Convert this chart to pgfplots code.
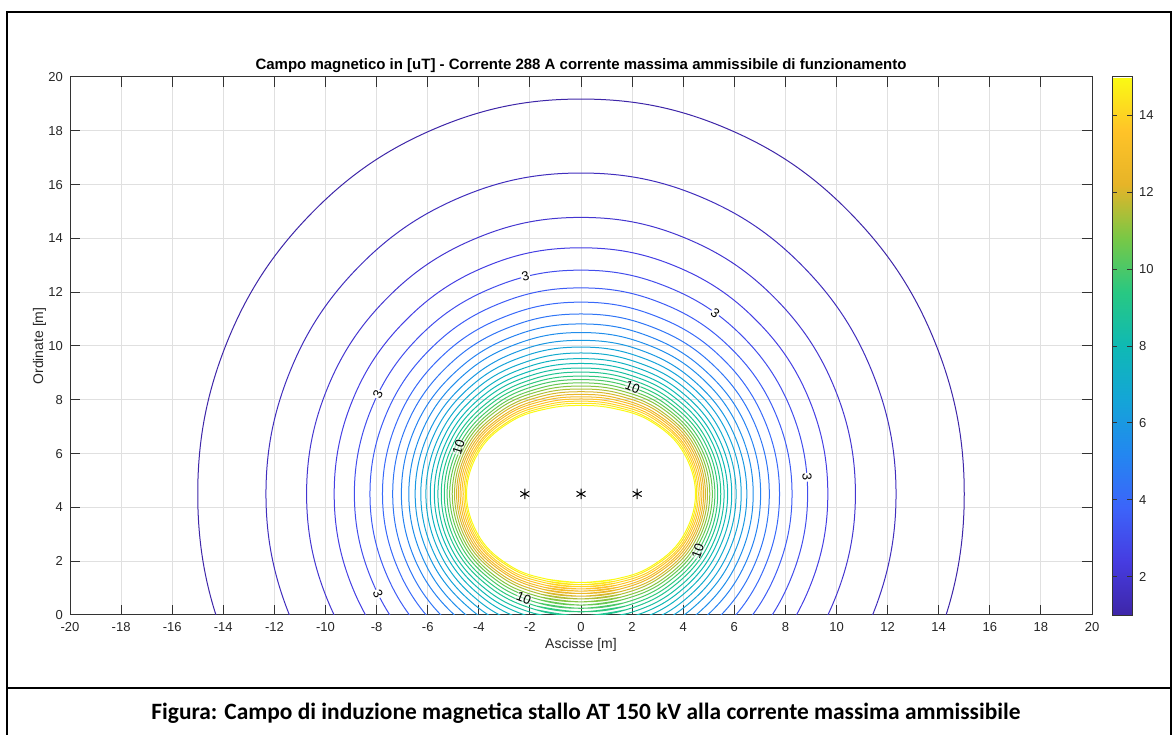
\documentclass[border=0pt]{standalone}
\usepackage{fontspec}
\setmainfont{Liberation Sans}
\newfontfamily\calibri{Carlito}
\usepackage{pgfplots}
\pgfplotsset{compat=1.18}
\definecolor{cm0}{RGB}{62,38,168}
\definecolor{cm1}{RGB}{70,60,225}
\definecolor{cm2}{RGB}{60,100,250}
\definecolor{cm3}{RGB}{35,135,240}
\definecolor{cm4}{RGB}{20,165,215}
\definecolor{cm5}{RGB}{15,185,180}
\definecolor{cm6}{RGB}{40,200,130}
\definecolor{cm7}{RGB}{120,200,70}
\definecolor{cm8}{RGB}{230,180,40}
\definecolor{cm9}{RGB}{255,195,40}
\definecolor{cm10}{RGB}{250,250,20}
\pgfplotsset{colormap={mparula}{rgb255=(62,38,168) rgb255=(70,60,225) rgb255=(60,100,250) rgb255=(35,135,240) rgb255=(20,165,215) rgb255=(15,185,180) rgb255=(40,200,130) rgb255=(120,200,70) rgb255=(230,180,40) rgb255=(255,195,40) rgb255=(250,250,20)}}
\begin{document}
\begin{tikzpicture}
\path[use as bounding box] (0pt,0pt) rectangle (586.5pt,367pt);
\draw[line width=1.2pt] (3.5pt,-3pt) -- (3.5pt,361pt) -- (585.5pt,361pt) -- (585.5pt,-3pt);
\draw[line width=1.2pt] (3.5pt,23pt) -- (585.5pt,23pt);
\node[anchor=base, font=\calibri\bfseries\fontsize{11.7}{13}\selectfont] at (293pt,7.5pt) {Figura: Campo di induzione magnetica stallo AT 150 kV alla corrente massima ammissibile};
\begin{axis}[
  at={(35pt,59.5pt)}, anchor=south west,
  scale only axis, width=511pt, height=269pt,
  xmin=-20, xmax=20, ymin=0, ymax=20,
  xtick={-20,-18,...,20}, ytick={0,2,...,20},
  grid=major, grid style={line width=0.5pt, color=black!12},
  axis line style={line width=0.5pt, color=black!80},
  every tick/.style={line width=0.5pt, color=black!80},
  major tick length=5pt,
  tick label style={font=\fontsize{6.5}{7}\selectfont, text=black!85},
  /pgf/number format/assume math mode=true,
  title={Campo magnetico in [uT] - Corrente 288 A corrente massima ammissibile di funzionamento},
  title style={at={(axis description cs:0.5,0.9907)}, anchor=base, font=\bfseries\fontsize{7.5}{8.5}\selectfont},
  xlabel={Ascisse [m]},
  xlabel style={at={(axis description cs:0.5,-0.0632)}, anchor=base, font=\fontsize{7}{8}\selectfont, text=black!85},
  ylabel={Ordinate [m]},
  ylabel style={at={(axis description cs:-0.0264,0.5)}, anchor=base, font=\fontsize{7}{8}\selectfont, text=black!85},
  colormap name=mparula, point meta min=1, point meta max=15,
  colorbar,
  colorbar style={
    at={(parent axis.north east)}, anchor=north west, xshift=1.5pt,
    scale only axis, width=10pt, height=269pt,
    ytick={2,4,...,14},
    yticklabel style={font=\fontsize{6.5}{7}\selectfont, text=black!85},
    /pgf/number format/assume math mode=true,
    axis line style={line width=0.5pt, color=black!80},
    every tick/.style={line width=0.5pt, color=black!80},
    major tick length=2.5pt,
  },
  every axis plot/.append style={line width=0.5pt, tension=0.65},
]
% level 1
\addplot[draw=cm0, smooth] coordinates {(-5.64,-9.11) (0,-10.18) (5.64,-9.11) (10.49,-5.99) (13.82,-1.22) (15.00,4.5) (13.82,10.22) (10.49,14.99) (5.64,18.11) (0,19.18) (-5.64,18.11) (-10.49,14.99) (-13.82,10.22) (-15.00,4.5) (-13.82,-1.22) (-10.49,-5.99) (-5.64,-9.11) (0,-10.18) (5.64,-9.11)};
% level 1.5
\addplot[draw=cm1!36!cm0, smooth] coordinates {(-4.59,-6.58) (0,-7.43) (4.59,-6.58) (8.57,-4.07) (11.33,-0.19) (12.33,4.5) (11.33,9.19) (8.57,13.07) (4.59,15.58) (0,16.43) (-4.59,15.58) (-8.57,13.07) (-11.33,9.19) (-12.33,4.5) (-11.33,-0.19) (-8.57,-4.07) (-4.59,-6.58) (0,-7.43) (4.59,-6.58)};
% level 2
\addplot[draw=cm1!71!cm0, smooth] coordinates {(-3.96,-5.06) (0,-5.78) (3.96,-5.06) (7.43,-2.93) (9.86,0.42) (10.74,4.5) (9.86,8.58) (7.43,11.93) (3.96,14.06) (0,14.78) (-3.96,14.06) (-7.43,11.93) (-9.86,8.58) (-10.74,4.5) (-9.86,0.42) (-7.43,-2.93) (-3.96,-5.06) (0,-5.78) (3.96,-5.06)};
% level 2.5
\addplot[draw=cm2!7!cm1, smooth] coordinates {(-3.53,-4.03) (0,-4.65) (3.53,-4.03) (6.65,-2.15) (8.86,0.83) (9.66,4.5) (8.86,8.17) (6.65,11.15) (3.53,13.03) (0,13.65) (-3.53,13.03) (-6.65,11.15) (-8.86,8.17) (-9.66,4.5) (-8.86,0.83) (-6.65,-2.15) (-3.53,-4.03) (0,-4.65) (3.53,-4.03)};
% level 3
\addplot[draw=cm2!43!cm1, smooth] coordinates {(-3.21,-3.26) (0,-3.82) (3.21,-3.26) (6.08,-1.58) (8.12,1.14) (8.87,4.5) (8.12,7.86) (6.08,10.58) (3.21,12.26) (0,12.82) (-3.21,12.26) (-6.08,10.58) (-8.12,7.86) (-8.87,4.5) (-8.12,1.14) (-6.08,-1.58) (-3.21,-3.26) (0,-3.82) (3.21,-3.26)};
% level 3.5
\addplot[draw=cm2!79!cm1, smooth] coordinates {(-2.97,-2.66) (0,-3.16) (2.97,-2.66) (5.63,-1.13) (7.55,1.37) (8.26,4.5) (7.55,7.63) (5.63,10.13) (2.97,11.66) (0,12.16) (-2.97,11.66) (-5.63,10.13) (-7.55,7.63) (-8.26,4.5) (-7.55,1.37) (-5.63,-1.13) (-2.97,-2.66) (0,-3.16) (2.97,-2.66)};
% level 4
\addplot[draw=cm3!14!cm2, smooth] coordinates {(-2.76,-2.17) (0,-2.63) (2.76,-2.17) (5.27,-0.77) (7.09,1.56) (7.77,4.5) (7.09,7.44) (5.27,9.77) (2.76,11.17) (0,11.63) (-2.76,11.17) (-5.27,9.77) (-7.09,7.44) (-7.77,4.5) (-7.09,1.56) (-5.27,-0.77) (-2.76,-2.17) (0,-2.63) (2.76,-2.17)};
% level 4.5
\addplot[draw=cm3!50!cm2, smooth] coordinates {(-2.60,-1.77) (0,-2.19) (2.60,-1.77) (4.97,-0.47) (6.72,1.72) (7.37,4.5) (6.72,7.28) (4.97,9.47) (2.60,10.77) (0,11.19) (-2.60,10.77) (-4.97,9.47) (-6.72,7.28) (-7.37,4.5) (-6.72,1.72) (-4.97,-0.47) (-2.60,-1.77) (0,-2.19) (2.60,-1.77)};
% level 5
\addplot[draw=cm3!86!cm2, smooth] coordinates {(-2.46,-1.43) (0,-1.82) (2.46,-1.43) (4.71,-0.21) (6.40,1.85) (7.03,4.5) (6.40,7.15) (4.71,9.21) (2.46,10.43) (0,10.82) (-2.46,10.43) (-4.71,9.21) (-6.40,7.15) (-7.03,4.5) (-6.40,1.85) (-4.71,-0.21) (-2.46,-1.43) (0,-1.82) (2.46,-1.43)};
% level 5.5
\addplot[draw=cm4!21!cm3, smooth] coordinates {(-2.33,-1.14) (0,-1.50) (2.33,-1.14) (4.50,0.00) (6.12,1.96) (6.74,4.5) (6.12,7.04) (4.50,9.00) (2.33,10.14) (0,10.50) (-2.33,10.14) (-4.50,9.00) (-6.12,7.04) (-6.74,4.5) (-6.12,1.96) (-4.50,0.00) (-2.33,-1.14) (0,-1.50) (2.33,-1.14)};
% level 6
\addplot[draw=cm4!57!cm3, smooth] coordinates {(-2.23,-0.88) (0,-1.21) (2.23,-0.88) (4.30,0.20) (5.88,2.06) (6.49,4.5) (5.88,6.94) (4.30,8.80) (2.23,9.88) (0,10.21) (-2.23,9.88) (-4.30,8.80) (-5.88,6.94) (-6.49,4.5) (-5.88,2.06) (-4.30,0.20) (-2.23,-0.88) (0,-1.21) (2.23,-0.88)};
% level 6.5
\addplot[draw=cm4!93!cm3, smooth] coordinates {(-2.13,-0.65) (0,-0.96) (2.13,-0.65) (4.14,0.36) (5.68,2.15) (6.27,4.5) (5.68,6.85) (4.14,8.64) (2.13,9.65) (0,9.96) (-2.13,9.65) (-4.14,8.64) (-5.68,6.85) (-6.27,4.5) (-5.68,2.15) (-4.14,0.36) (-2.13,-0.65) (0,-0.96) (2.13,-0.65)};
% level 7
\addplot[draw=cm5!29!cm4, smooth] coordinates {(-2.05,-0.44) (0,-0.74) (2.05,-0.44) (3.99,0.51) (5.49,2.23) (6.07,4.5) (5.49,6.77) (3.99,8.49) (2.05,9.44) (0,9.74) (-2.05,9.44) (-3.99,8.49) (-5.49,6.77) (-6.07,4.5) (-5.49,2.23) (-3.99,0.51) (-2.05,-0.44) (0,-0.74) (2.05,-0.44)};
% level 7.5
\addplot[draw=cm5!64!cm4, smooth] coordinates {(-1.97,-0.26) (0,-0.53) (1.97,-0.26) (3.85,0.65) (5.32,2.30) (5.90,4.5) (5.32,6.71) (3.85,8.35) (1.97,9.26) (0,9.53) (-1.97,9.26) (-3.85,8.35) (-5.32,6.71) (-5.90,4.5) (-5.32,2.30) (-3.85,0.65) (-1.97,-0.26) (0,-0.53) (1.97,-0.26)};
% level 8
\addplot[draw=cm5, smooth] coordinates {(-1.90,-0.09) (0,-0.35) (1.90,-0.09) (3.73,0.77) (5.17,2.36) (5.74,4.5) (5.17,6.64) (3.73,8.23) (1.90,9.09) (0,9.35) (-1.90,9.09) (-3.73,8.23) (-5.17,6.64) (-5.74,4.5) (-5.17,2.36) (-3.73,0.77) (-1.90,-0.09) (0,-0.35) (1.90,-0.09)};
% level 8.5
\addplot[draw=cm6!36!cm5, smooth] coordinates {(-1.84,0.06) (0,-0.18) (1.84,0.06) (3.62,0.88) (5.04,2.41) (5.60,4.5) (5.04,6.59) (3.62,8.12) (1.84,8.94) (0,9.18) (-1.84,8.94) (-3.62,8.12) (-5.04,6.59) (-5.60,4.5) (-5.04,2.41) (-3.62,0.88) (-1.84,0.06) (0,-0.18) (1.84,0.06)};
% level 9
\addplot[draw=cm6!71!cm5, smooth] coordinates {(-1.78,0.20) (0,-0.03) (1.78,0.20) (3.51,0.99) (4.91,2.47) (5.47,4.5) (4.91,6.53) (3.51,8.01) (1.78,8.80) (0,9.03) (-1.78,8.80) (-3.51,8.01) (-4.91,6.53) (-5.47,4.5) (-4.91,2.47) (-3.51,0.99) (-1.78,0.20) (0,-0.03) (1.78,0.20)};
% level 9.5
\addplot[draw=cm7!7!cm6, smooth] coordinates {(-1.73,0.33) (0,0.12) (1.73,0.33) (3.42,1.08) (4.80,2.51) (5.35,4.5) (4.80,6.49) (3.42,7.92) (1.73,8.67) (0,8.88) (-1.73,8.67) (-3.42,7.92) (-4.80,6.49) (-5.35,4.5) (-4.80,2.51) (-3.42,1.08) (-1.73,0.33) (0,0.12) (1.73,0.33)};
% level 10
\addplot[draw=cm7!43!cm6, smooth] coordinates {(-1.68,0.45) (0,0.25) (1.68,0.45) (3.33,1.17) (4.69,2.56) (5.24,4.5) (4.69,6.44) (3.33,7.83) (1.68,8.55) (0,8.75) (-1.68,8.55) (-3.33,7.83) (-4.69,6.44) (-5.24,4.5) (-4.69,2.56) (-3.33,1.17) (-1.68,0.45) (0,0.25) (1.68,0.45)};
% level 10.5
\addplot[draw=cm7!79!cm6, smooth] coordinates {(-1.63,0.57) (0,0.37) (1.63,0.57) (3.25,1.25) (4.59,2.60) (5.14,4.5) (4.59,6.40) (3.25,7.75) (1.63,8.43) (0,8.63) (-1.63,8.43) (-3.25,7.75) (-4.59,6.40) (-5.14,4.5) (-4.59,2.60) (-3.25,1.25) (-1.63,0.57) (0,0.37) (1.63,0.57)};
% level 11
\addplot[draw=cm8!14!cm7, smooth] coordinates {(-1.59,0.67) (0,0.49) (1.59,0.67) (3.18,1.32) (4.50,2.63) (5.04,4.5) (4.50,6.37) (3.18,7.68) (1.59,8.33) (0,8.51) (-1.59,8.33) (-3.18,7.68) (-4.50,6.37) (-5.04,4.5) (-4.50,2.63) (-3.18,1.32) (-1.59,0.67) (0,0.49) (1.59,0.67)};
% level 11.5
\addplot[draw=cm8!50!cm7, smooth] coordinates {(-1.55,0.77) (0,0.60) (1.55,0.77) (3.10,1.40) (4.42,2.67) (4.95,4.5) (4.42,6.33) (3.10,7.60) (1.55,8.23) (0,8.40) (-1.55,8.23) (-3.10,7.60) (-4.42,6.33) (-4.95,4.5) (-4.42,2.67) (-3.10,1.40) (-1.55,0.77) (0,0.60) (1.55,0.77)};
% level 12
\addplot[draw=cm8!86!cm7, smooth] coordinates {(-1.51,0.86) (0,0.70) (1.51,0.86) (3.04,1.46) (4.34,2.70) (4.87,4.5) (4.34,6.30) (3.04,7.54) (1.51,8.14) (0,8.30) (-1.51,8.14) (-3.04,7.54) (-4.34,6.30) (-4.87,4.5) (-4.34,2.70) (-3.04,1.46) (-1.51,0.86) (0,0.70) (1.51,0.86)};
% level 12.5
\addplot[draw=cm9!21!cm8, smooth] coordinates {(-1.47,0.95) (0,0.80) (1.47,0.95) (2.97,1.53) (4.27,2.73) (4.80,4.5) (4.27,6.27) (2.97,7.47) (1.47,8.05) (0,8.20) (-1.47,8.05) (-2.97,7.47) (-4.27,6.27) (-4.80,4.5) (-4.27,2.73) (-2.97,1.53) (-1.47,0.95) (0,0.80) (1.47,0.95)};
% level 13
\addplot[draw=cm9!57!cm8, smooth] coordinates {(-1.44,1.03) (0,0.89) (1.44,1.03) (2.92,1.58) (4.20,2.76) (4.73,4.5) (4.20,6.24) (2.92,7.42) (1.44,7.97) (0,8.11) (-1.44,7.97) (-2.92,7.42) (-4.20,6.24) (-4.73,4.5) (-4.20,2.76) (-2.92,1.58) (-1.44,1.03) (0,0.89) (1.44,1.03)};
% level 13.5
\addplot[draw=cm9!93!cm8, smooth] coordinates {(-1.40,1.11) (0,0.97) (1.40,1.11) (2.86,1.64) (4.13,2.79) (4.66,4.5) (4.13,6.21) (2.86,7.36) (1.40,7.89) (0,8.03) (-1.40,7.89) (-2.86,7.36) (-4.13,6.21) (-4.66,4.5) (-4.13,2.79) (-2.86,1.64) (-1.40,1.11) (0,0.97) (1.40,1.11)};
% level 14
\addplot[draw=cm10!29!cm9, smooth] coordinates {(-1.37,1.19) (0,1.05) (1.37,1.19) (2.81,1.69) (4.07,2.81) (4.59,4.5) (4.07,6.19) (2.81,7.31) (1.37,7.81) (0,7.95) (-1.37,7.81) (-2.81,7.31) (-4.07,6.19) (-4.59,4.5) (-4.07,2.81) (-2.81,1.69) (-1.37,1.19) (0,1.05) (1.37,1.19)};
% level 14.5
\addplot[draw=cm10!64!cm9, smooth] coordinates {(-1.34,1.26) (0,1.13) (1.34,1.26) (2.75,1.75) (4.01,2.84) (4.53,4.5) (4.01,6.16) (2.75,7.25) (1.34,7.74) (0,7.87) (-1.34,7.74) (-2.75,7.25) (-4.01,6.16) (-4.53,4.5) (-4.01,2.84) (-2.75,1.75) (-1.34,1.26) (0,1.13) (1.34,1.26)};
% level 15
\addplot[draw=cm10, smooth] coordinates {(-1.32,1.33) (0,1.21) (1.32,1.33) (2.71,1.79) (3.95,2.86) (4.48,4.5) (3.95,6.14) (2.71,7.21) (1.32,7.67) (0,7.79) (-1.32,7.67) (-2.71,7.21) (-3.95,6.14) (-4.48,4.5) (-3.95,2.86) (-2.71,1.79) (-1.32,1.33) (0,1.21) (1.32,1.33)};
% conductors
\addplot[only marks, mark=asterisk, mark size=2.6pt, mark options={line width=0.5pt, black}] coordinates {(-2.2,4.5) (0,4.5) (2.2,4.5)};
% contour labels
\tikzset{clab/.style={font=\fontsize{6.5}{7}\selectfont, fill=white, inner sep=0.4pt, text=black}}
\node[clab, rotate=15] at (-2.17,12.58) {3};
\node[clab, rotate=-38] at (5.25,11.22) {3};
\node[clab, rotate=-86] at (8.85,5.12) {3};
\node[clab, rotate=65] at (-7.95,8.21) {3};
\node[clab, rotate=-65] at (-7.95,0.79) {3};
\tikzset{clabt/.style={clab, fill opacity=0.5, text opacity=1, inner sep=0.1pt}}
\node[clabt, rotate=-22] at (2.02,8.46) {10};
\node[clabt, rotate=72] at (-4.79,6.24) {10};
\node[clabt, rotate=70] at (4.57,2.37) {10};
\node[clabt, rotate=-22] at (-2.24,0.63) {10};
\end{axis}
\end{tikzpicture}
\end{document}
